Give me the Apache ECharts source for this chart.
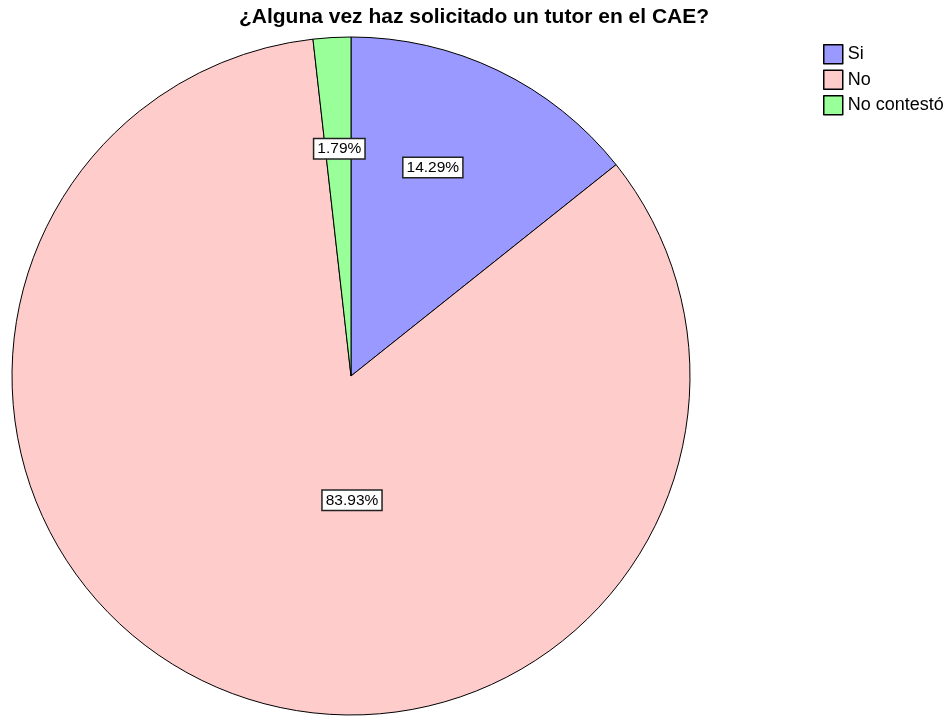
<!DOCTYPE html>
<html>
<head>
<meta charset="utf-8">
<script src="https://cdn.jsdelivr.net/npm/echarts@6/dist/echarts.min.js"></script>
<style>
  html, body {margin: 0; padding: 0; background: #fff;}
  #chart {width: 948px; height: 717px;}
</style>
</head>
<body>
<div id="chart"></div>
<script>
const categories = ['Si', 'No', 'No contestó'];
const percents = [14.29, 83.93, 1.79];
const colors = ['#9999FF', '#FFCCCC', '#99FF99'];
const labelOffsets = [[7, -53], [67, -35], [-2, -55]];

const myChart = echarts.init(document.getElementById('chart'));
myChart.setOption({
  animation: false,
  title: {
    text: '¿Alguna vez haz solicitado un tutor en el CAE?',
    left: 'center',
    top: 2,
    textStyle: {fontFamily: 'Liberation Sans', fontSize: 21, fontWeight: 'bold', color: '#000'}
  },
  legend: {
    orient: 'vertical',
    left: 818,
    top: 39,
    itemWidth: 19,
    itemHeight: 19,
    itemGap: 5,
    icon: 'rect',
    itemStyle: {borderColor: '#000', borderWidth: 1.5},
    textStyle: {fontFamily: 'Liberation Sans', fontSize: 18, color: '#000'},
    data: categories
  },
  series: [{
    type: 'pie',
    center: [351, 376],
    radius: 339,
    startAngle: 90,
    clockwise: true,
    itemStyle: {borderColor: '#000', borderWidth: 1},
    label: {
      position: 'inside',
      formatter: p => p.value.toFixed(2) + '%',
      fontFamily: 'Liberation Sans',
      fontSize: 15.5,
      color: '#000',
      backgroundColor: '#fff',
      borderColor: '#222',
      borderWidth: 1.5,
      padding: [2, 3, 1, 3]
    },
    emphasis: {disabled: true},
    data: categories.map((name, i) => ({
      name,
      value: percents[i],
      itemStyle: {color: colors[i]},
      label: {offset: labelOffsets[i]}
    }))
  }]
});
</script>
</body>
</html>
